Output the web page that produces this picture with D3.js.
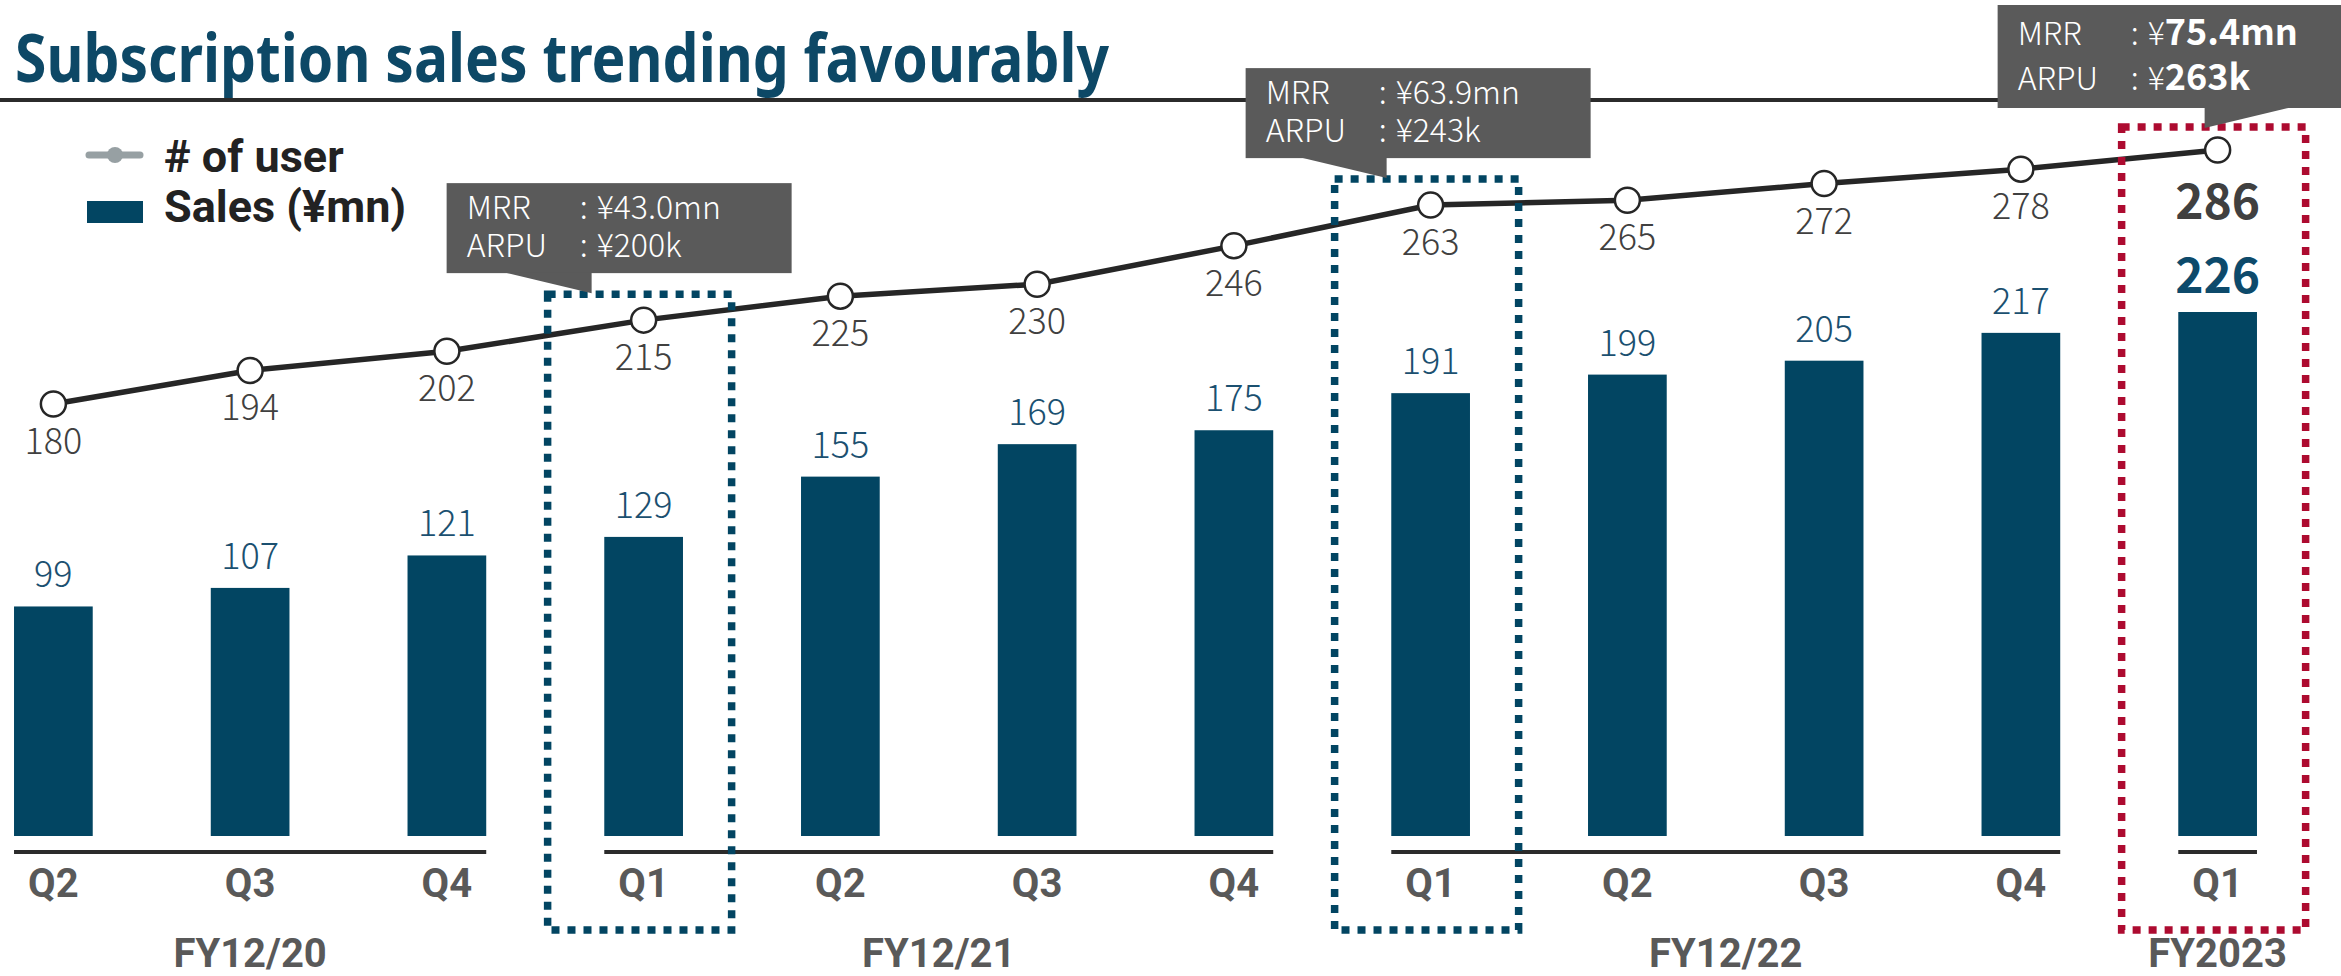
<!DOCTYPE html>
<html>
<head>
<meta charset="utf-8">
<script src="https://cdn.jsdelivr.net/npm/d3@7"></script>
<style>
  body{margin:0;background:#fff;}
  svg{display:block;}
  .num{font-family:"Noto Sans CJK JP","Noto Sans",sans-serif;}
  .bold{font-family:Roboto,"Noto Sans",sans-serif;font-weight:700;}
</style>
</head>
<body>
<svg id="chart" width="2341" height="976"></svg>
<script>
// data
var quarters=["Q2","Q3","Q4","Q1","Q2","Q3","Q4","Q1","Q2","Q3","Q4","Q1"];
var fiscalYears=["FY12/20","FY12/20","FY12/20","FY12/21","FY12/21","FY12/21","FY12/21","FY12/22","FY12/22","FY12/22","FY12/22","FY2023"];
var sales=[99,107,121,129,155,169,175,191,199,205,217,226];
var users=[180,194,202,215,225,230,246,263,265,272,278,286];
var highlightIdx=[3,7,11];
var mrr=["¥43.0mn","¥63.9mn","¥75.4mn"];
var arpu=["¥200k","¥243k","¥263k"];

var teal="#024562", dark="#262626", grey="#595959", red="#ad0b30";
var svg=d3.select("#chart");
var n=sales.length;

var x=d3.scaleBand().domain(d3.range(n)).range([-45,2316]).paddingInner(0.6).paddingOuter(0.3);
var xc=function(i){return x(i)+x.bandwidth()/2;};
var yBar=d3.scaleLinear().domain([0,226]).range([836,312]);
var yUser=d3.scaleLinear().domain([180,286]).range([404,150]);
var axisY=852;

// title + rule
svg.append("text").attr("x",15).attr("y",82)
  .attr("font-family","'Noto Sans',sans-serif").attr("font-weight",700).attr("font-size",66)
  .attr("fill","#0d4866").attr("textLength",1094).attr("lengthAdjust","spacingAndGlyphs")
  .text("Subscription sales trending favourably");
svg.append("line").attr("x1",0).attr("x2",2341).attr("y1",100).attr("y2",100)
  .attr("stroke","#2b2b2b").attr("stroke-width",4);

// legend
var lg=svg.append("g");
lg.append("line").attr("x1",89).attr("x2",140).attr("y1",155).attr("y2",155)
  .attr("stroke","#97a0a3").attr("stroke-width",7).attr("stroke-linecap","round");
lg.append("circle").attr("cx",115).attr("cy",155).attr("r",8).attr("fill","#97a0a3");
lg.append("rect").attr("x",87).attr("y",201).attr("width",56).attr("height",22).attr("fill",teal);
lg.append("text").attr("class","bold").attr("x",164).attr("y",172).attr("font-size",45).attr("fill","#222").text("# of user");
lg.append("text").attr("class","bold").attr("x",164).attr("y",222).attr("font-size",45).attr("fill","#222").text("Sales (¥mn)");

// bars
svg.append("g").selectAll("rect").data(sales).join("rect")
  .attr("x",function(d,i){return x(i);}).attr("width",x.bandwidth())
  .attr("y",function(d){return yBar(d);}).attr("height",function(d){return yBar(0)-yBar(d);})
  .attr("fill",teal);

// axis segments per fiscal year
var groups=d3.groups(d3.range(n),function(i){return fiscalYears[i];});
svg.append("g").selectAll("line").data(groups).join("line")
  .attr("x1",function(g){return x(g[1][0]);})
  .attr("x2",function(g){return x(g[1][g[1].length-1])+x.bandwidth();})
  .attr("y1",axisY).attr("y2",axisY).attr("stroke","#2b2b2b").attr("stroke-width",4);

svg.append("g").selectAll("text").data(quarters).join("text")
  .attr("class","bold").attr("x",function(d,i){return xc(i);}).attr("y",897)
  .attr("text-anchor","middle").attr("font-size",40).attr("fill",grey).text(function(d){return d;});

svg.append("g").selectAll("text").data(groups).join("text")
  .attr("class","bold").attr("x",function(g){return d3.mean(g[1],xc);}).attr("y",967)
  .attr("text-anchor","middle").attr("font-size",40).attr("fill",grey).text(function(g){return g[0];});

// user line
var line=d3.line().x(function(d,i){return xc(i);}).y(function(d){return yUser(d);});
svg.append("path").datum(users).attr("d",line).attr("fill","none")
  .attr("stroke",dark).attr("stroke-width",5.5);
svg.append("g").selectAll("circle").data(users).join("circle")
  .attr("cx",function(d,i){return xc(i);}).attr("cy",function(d){return yUser(d);})
  .attr("r",12.5).attr("fill","#fff").attr("stroke",dark).attr("stroke-width",2.5);

// value labels
svg.append("g").selectAll("text").data(users).join("text")
  .attr("class","num").attr("x",function(d,i){return xc(i);})
  .attr("y",function(d,i){return yUser(d)+(i==n-1?69:50);})
  .attr("text-anchor","middle").attr("fill","#404040")
  .attr("font-size",function(d,i){return i==n-1?48:36;})
  .attr("font-weight",function(d,i){return i==n-1?700:300;})
  .text(function(d){return d;});
svg.append("g").selectAll("text").data(sales).join("text")
  .attr("class","num").attr("x",function(d,i){return xc(i);})
  .attr("y",function(d){return yBar(d)-19;})
  .attr("text-anchor","middle").attr("fill",function(d,i){return i==n-1?"#0d4a6b":"#1b5070";})
  .attr("font-size",function(d,i){return i==n-1?48:36;})
  .attr("font-weight",function(d,i){return i==n-1?700:300;})
  .text(function(d){return d;});

// dashed highlight boxes
highlightIdx.forEach(function(i,k){
  var top=yUser(users[i])-(k==2?23:26);
  svg.append("rect").attr("x",xc(i)-96).attr("y",top).attr("width",184).attr("height",930-top)
    .attr("fill","none").attr("stroke",k==2?red:teal).attr("stroke-width",7.5)
    .attr("stroke-dasharray","8,8");
});

// callouts
var calloutLayout=[{dx:-197,tip:-52,h:90,gap:27,flip:false},{dx:-185,tip:-44,h:90,gap:27,flip:false},{dx:-220,tip:-13,h:103,gap:22,flip:true}];
highlightIdx.forEach(function(i,k){
  var L=calloutLayout[k];
  var tipY=yUser(users[i])-L.gap, bottom=tipY-20, top=bottom-L.h;
  var left=xc(i)+L.dx, tipX=xc(i)+L.tip;
  var g=svg.append("g");
  g.append("rect").attr("x",left).attr("y",top).attr("width",345).attr("height",L.h).attr("fill","#5a5a5a");
  var pts=L.flip?[[tipX,bottom-1],[tipX+88,bottom-1],[tipX,tipY]]:[[tipX-88,bottom-1],[tipX,bottom-1],[tipX,tipY]];
  g.append("polygon").attr("points",pts.join(" ")).attr("fill","#5a5a5a");
  var rows=[["MRR",mrr[k]],["ARPU",arpu[k]]];
  var by=L.flip?[40,85]:[36,74];
  rows.forEach(function(r,j){
    var t=g.append("g").attr("class","num").attr("font-size",32).attr("font-weight",300).attr("fill","#fff");
    t.append("text").attr("x",left+20).attr("y",top+by[j]).text(r[0]);
    t.append("text").attr("x",left+133).attr("y",top+by[j]).text(":");
    var v=t.append("text").attr("x",left+150).attr("y",top+by[j]);
    if(L.flip){
      v.append("tspan").text(r[1].slice(0,1));
      v.append("tspan").attr("font-weight",700).attr("font-size",36).text(r[1].slice(1));
    } else v.text(r[1]);
  });
});
</script>
</body>
</html>
